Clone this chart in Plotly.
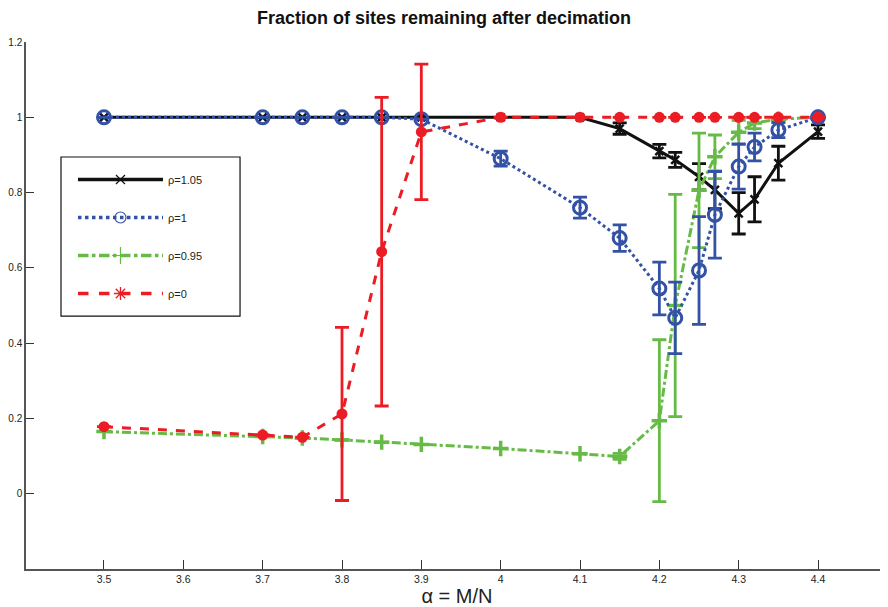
import plotly.graph_objects as go

alpha = [3.5, 3.7, 3.75, 3.8, 3.85, 3.9, 4.0, 4.1, 4.15, 4.2, 4.22, 4.25, 4.27, 4.3, 4.32, 4.35, 4.4]

rho105 = [1.0, 1.0, 1.0, 1.0, 1.0, 1.0, 1.0, 1.0, 0.97, 0.91, 0.887, 0.842, 0.807, 0.745, 0.782, 0.878, 0.962]
rho105_err = [0, 0, 0, 0, 0, 0, 0, 0, 0.015, 0.018, 0.02, 0.035, 0.05, 0.055, 0.06, 0.045, 0.018]

rho1 = [1.0, 1.0, 1.0, 1.0, 1.0, 0.995, 0.89, 0.76, 0.679, 0.545, 0.467, 0.593, 0.741, 0.869, 0.921, 0.966, 1.0]
rho1_err = [0, 0, 0, 0, 0, 0, 0.02, 0.028, 0.035, 0.07, 0.095, 0.143, 0.115, 0.06, 0.037, 0.02, 0.0]

rho095 = [0.165, 0.152, 0.148, 0.143, 0.137, 0.131, 0.12, 0.106, 0.099, 0.194, 0.5, 0.806, 0.895, 0.96, 0.985, 0.995, 1.0]
rho095_err = [0, 0, 0, 0, 0, 0, 0, 0, 0.008, 0.215, 0.295, 0.152, 0.058, 0.032, 0.015, 0.005, 0]

rho0 = [0.178, 0.156, 0.15, 0.212, 0.643, 0.961, 1.0, 1.0, 1.0, 1.0, 1.0, 1.0, 1.0, 1.0, 1.0, 1.0, 1.0]
rho0_err = [0, 0, 0, 0.23, 0.41, 0.18, 0, 0, 0, 0, 0, 0, 0, 0, 0, 0, 0]

labels = ["ρ=1.05", "ρ=1", "ρ=0.95", "ρ=0"]
xticks = [3.5, 3.6, 3.7, 3.8, 3.9, 4.0, 4.1, 4.2, 4.3, 4.4]
xtick_text = ["3.5", "3.6", "3.7", "3.8", "3.9", "4", "4.1", "4.2", "4.3", "4.4"]
yticks = [0, 0.2, 0.4, 0.6, 0.8, 1.0, 1.2]
ytick_text = ["0", "0.2", "0.4", "0.6", "0.8", "1", "1.2"]

BLACK = "#111111"
BLUE = "#3352a6"
GREEN = "#66bb46"
RED = "#ec1c24"
SANS = "Liberation Sans, Arial, sans-serif"
NARROW = "Liberation Sans Narrow, Liberation Sans, sans-serif"

series = [
    (rho105, rho105_err, BLACK, "solid", dict(symbol="x-thin-open", size=8, line=dict(width=2.5, color=BLACK)), dict(symbol="x-thin-open", size=9, line=dict(width=1.2, color=BLACK))),
    (rho095, rho095_err, GREEN, "dashdot", dict(symbol="cross-thin-open", size=11, line=dict(width=3.5, color=GREEN)), dict(symbol="cross-thin-open", size=12, line=dict(width=1.2, color=GREEN))),
    (rho1, rho1_err, BLUE, "dot", dict(symbol="circle-open", size=13, line=dict(width=3, color=BLUE)), dict(symbol="circle-open", size=11, line=dict(width=1.2, color=BLUE))),
    (rho0, rho0_err, RED, "dash", dict(symbol="circle", size=11, color=RED, line=dict(width=0)), dict(symbol="asterisk-open", size=11, line=dict(width=1.3, color=RED))),
]
series_labels = [labels[0], labels[2], labels[1], labels[3]]

fig = go.Figure()
for (y, e, c, d, mk, _), name in zip(series, series_labels):
    fig.add_trace(go.Scatter(
        x=alpha, y=y, mode="lines+markers", name=name, showlegend=False,
        line=dict(color=c, width=3, dash=d), marker=mk,
        error_y=dict(type="data", array=e, visible=True, color=c, thickness=2.8, width=7),
    ))

# legend-only entries (thin markers, as in the reference legend)
legend_order = [0, 2, 1, 3]
for i in legend_order:
    y, e, c, d, _, lmk = series[i]
    fig.add_trace(go.Scatter(
        x=[None], y=[None], mode="lines+markers", name=series_labels[i],
        line=dict(color=c, width=3.5, dash=d), marker=lmk, legendgroup=series_labels[i],
    ))

# legend frame
fig.add_shape(type="rect", xref="paper", yref="paper", x0=0.0406, x1=0.2483, y0=0.480, y1=0.7818,
              line=dict(color="#111", width=1.2), fillcolor="white", layer="below")

fig.update_layout(
    width=880, height=599,
    margin=dict(l=18, r=0, t=34, b=38),
    paper_bgcolor="white", plot_bgcolor="white",
    font=dict(family=SANS, color="#222"),
    title=dict(text="<b>Fraction of sites remaining after decimation</b>", x=0.4955, xref="container",
               y=1 - 10 / 599, yref="container", yanchor="middle", xanchor="center",
               font=dict(size=18, color="#111")),
    showlegend=True,
    legend=dict(x=0.0545, y=0.7666, xanchor="left", yanchor="top", borderwidth=0,
                bgcolor="rgba(0,0,0,0)", font=dict(size=11, color="#222"), tracegroupgap=19,
                itemwidth=85),
    xaxis=dict(range=[3.4017, 4.4882], tickvals=xticks, ticktext=xtick_text, ticks="inside", ticklen=9,
               tickcolor="#333", showgrid=False, zeroline=False, showline=True, linecolor="#555", linewidth=1.5,
               tickfont=dict(size=10.5, family=SANS),
               title=dict(text="α = M/N", font=dict(size=20, family=NARROW), standoff=3)),
    yaxis=dict(range=[-0.2, 1.2], tickvals=yticks, ticktext=ytick_text, ticks="inside", ticklen=8,
               tickcolor="#333", showgrid=False, zeroline=False, showline=True, linecolor="#555", linewidth=1.5,
               tickfont=dict(size=10, family=SANS)),
)

fig.write_html("out.html")
